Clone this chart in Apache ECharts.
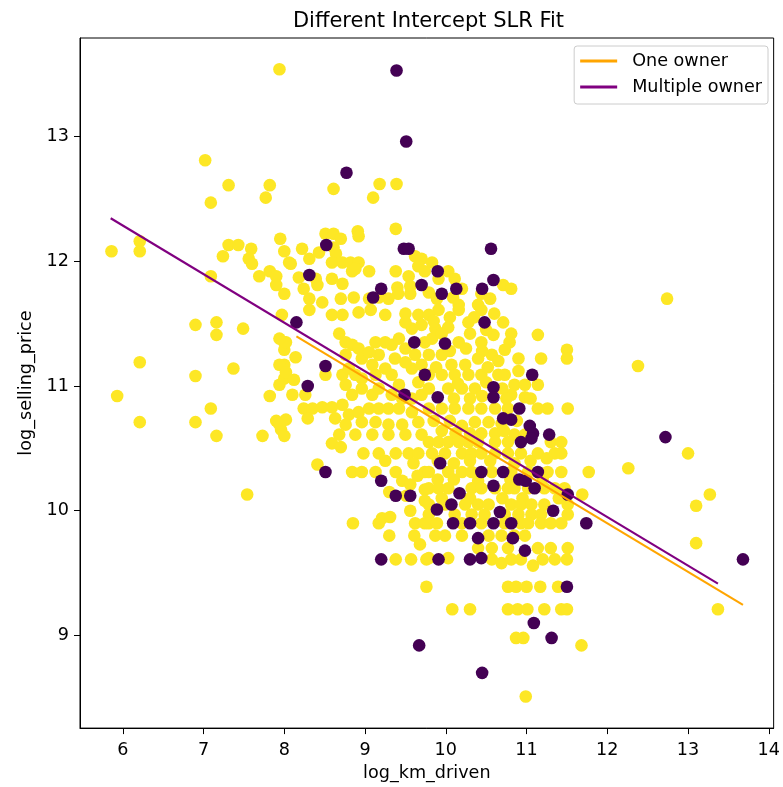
<!DOCTYPE html>
<html>
<head>
<meta charset="utf-8">
<script src="https://cdn.jsdelivr.net/npm/echarts@6/dist/echarts.min.js"></script>
<style>html,body{margin:0;padding:0;background:#fff}#c{width:783px;height:787px}</style>
</head>
<body>
<div id="c"></div>
<script>
// ---- data (log_km_driven, log_selling_price) ----
const oneOwner = [
[7.02,12.81],[7.31,12.61],[7.82,12.61],[7.77,12.51],[7.09,12.47],[6.21,12.16],[5.86,12.08],[6.21,12.08],[7.31,12.13],[7.43,12.13],[7.24,12.04],[7.59,12.10],[7.56,12.02],[7.60,11.98],[7.95,12.18],[8.0,12.08],[8.06,11.99],[7.69,11.88],[7.82,11.92],[7.90,11.88],[7.90,11.81],[7.09,11.88],[8.0,11.74],[7.97,11.57],[6.90,11.49],[7.16,11.51],[7.16,11.41],[7.49,11.46],[8.0,11.35],[8.0,11.29],[6.21,11.19],[7.37,11.14],[6.90,11.08],[8.0,11.17],[8.0,11.06],[5.93,10.92],[7.82,10.92],[7.09,10.82],[6.21,10.71],[6.90,10.71],[7.90,10.72],[7.96,10.65],[8.0,10.60],[7.16,10.60],[7.73,10.60],[7.54,10.13],[7.94,13.54],
[8.61,12.58],[9.18,12.62],[9.39,12.62],[9.10,12.51],[8.91,12.24],[8.92,12.20],[9.38,12.26],[8.51,12.22],[8.61,12.22],[8.70,12.18],[8.22,12.10],[8.31,12.02],[8.08,11.98],[8.43,12.07],[8.61,12.11],[8.64,12.06],[8.59,11.99],[8.72,11.99],[8.82,11.99],[8.92,11.99],[9.62,12.04],[9.70,12.02],[9.66,11.96],[9.74,11.92],[9.05,11.92],[8.18,11.87],[8.39,11.86],[8.24,11.78],[8.41,11.81],[8.59,11.86],[8.72,11.82],[8.84,11.92],[8.88,11.94],[9.38,11.92],[9.54,11.88],[9.56,11.80],[9.40,11.79],[9.56,11.74],[9.41,11.74],[9.29,11.70],[9.17,11.71],[9.05,11.70],[8.86,11.71],[8.70,11.70],[8.31,11.70],[8.47,11.67],
[9.83,11.99],[10.03,11.92],[10.11,11.86],[9.91,11.86],[9.79,11.75],[9.89,11.70],[10.20,11.78],[10.09,11.71],[10.71,11.81],[10.81,11.78],[10.44,11.74],[10.55,11.70],[10.16,11.65],[10.40,11.65],
[8.31,11.61],[8.59,11.57],[8.72,11.57],[8.92,11.59],[9.07,11.61],[9.25,11.57],[9.50,11.58],[9.66,11.57],[8.02,11.35],[7.94,11.38],[8.14,11.23],[7.94,11.17],[8.02,11.11],[8.12,11.05],[7.94,11.01],[8.10,10.93],[8.26,10.93],[8.24,10.82],[8.35,10.82],[8.29,10.74],[8.02,10.73],[7.94,10.69],[8.51,11.09],
[8.68,11.42],[8.76,11.35],[8.84,11.33],[8.92,11.30],[8.96,11.22],[8.76,11.25],[8.72,11.09],[8.80,11.14],[8.88,11.09],[8.96,11.06],[8.76,11.01],[8.84,10.93],[8.96,10.98],[9.09,10.93],[9.17,10.98],[9.13,11.09],[9.09,11.17],[9.17,11.25],[9.05,11.27],[9.13,11.35],[9.25,11.35],[9.33,11.33],[9.37,11.22],[9.25,11.14],[9.33,11.09],[9.42,11.01],[9.33,10.93],[9.46,10.90],[9.58,10.90],[9.70,10.93],[9.66,11.03],[9.58,11.14],[9.50,11.19],[9.62,11.25],[9.50,11.30],[9.42,11.38],[9.58,11.46],[9.70,11.49],[9.50,11.51],[9.74,11.35],[9.70,11.17],
[8.47,10.83],[8.59,10.83],[8.72,10.85],[8.80,10.77],[8.92,10.79],[9.05,10.82],[9.17,10.82],[9.29,10.82],[9.42,10.82],[9.58,10.79],[8.63,10.74],[8.76,10.69],[8.96,10.71],[9.13,10.71],[9.29,10.69],[9.46,10.69],[9.66,10.71],[8.68,10.61],[8.88,10.61],[9.09,10.61],[9.29,10.61],[9.50,10.61],[9.70,10.61],
[9.91,11.61],[10.16,11.61],[10.44,11.61],[9.79,11.57],[9.87,11.46],[10.03,11.47],[10.28,11.51],[10.71,11.51],[10.16,11.35],[10.44,11.35],[10.59,11.41],[10.81,11.42],[10.79,11.35],[10.73,11.29],[11.14,11.41],[10.90,11.22],[11.18,11.22],[11.50,11.29],[11.50,11.22],[9.83,11.38],[9.79,11.25],[9.95,11.25],[10.07,11.17],[10.24,11.17],[10.40,11.22],[10.57,11.25],[9.79,11.09],[9.95,11.09],[10.11,11.09],[10.28,11.09],[10.44,11.09],[10.65,11.09],[10.73,11.09],[10.85,11.01],[10.98,11.01],[11.14,11.01],[10.81,10.93],[10.98,10.91],[9.79,10.98],[10.03,10.98],[10.20,10.98],[10.36,10.98],[9.79,10.82],[9.95,10.82],[10.11,10.82],[10.28,10.82],[10.44,10.82],[10.61,10.82],[10.77,10.82],[11.14,10.82],[11.26,10.82],[11.51,10.82],[10.36,10.71],[10.53,10.71],[10.69,10.70],[10.44,10.62],[10.61,10.62],[10.85,10.61],[10.98,10.61],
[9.85,11.52],[10.05,11.55],[10.35,11.55],[10.60,11.58],[9.95,11.42],[10.30,11.42],[10.50,11.45],[10.05,11.28],[10.25,11.30],[10.45,11.28],[10.65,11.20],[9.88,11.15],[10.52,11.15],[10.90,11.12],[10.15,11.02],[10.50,11.03],[10.70,10.98],[10.10,10.90],[10.30,10.90],[10.45,10.92],[10.75,10.90],[11.05,10.90],[9.85,10.72],[10.05,10.72],[10.20,10.68],[10.88,10.72],[9.95,10.64],[10.12,10.62],[10.30,10.62],[10.72,10.64],
[8.59,10.54],[8.70,10.51],[8.98,10.46],[9.17,10.46],[9.38,10.46],[9.54,10.46],[9.66,10.46],[8.41,10.37],[8.84,10.31],[8.96,10.31],[9.13,10.31],[9.38,10.31],[9.74,10.31],[9.46,10.24],[9.56,10.21],[9.51,10.12],[9.74,10.17],[9.74,10.08],[9.56,10.00],[8.85,9.90],[9.17,9.90],[9.21,9.94],[9.31,9.95],[9.62,9.90],[9.74,9.90],[9.30,9.80],[9.61,9.80],[9.68,9.73],[9.38,9.61],[9.57,9.61],[9.76,9.61],
[9.25,10.40],[9.60,10.38],[9.30,10.15],[9.65,10.28],
[9.79,10.55],[9.91,10.55],[10.03,10.55],[10.16,10.55],[10.28,10.55],[10.40,10.55],[10.61,10.55],[10.77,10.55],[11.30,10.55],[11.43,10.55],
[9.83,10.46],[9.99,10.46],[10.20,10.46],[10.32,10.46],[10.44,10.46],[10.61,10.46],[10.77,10.46],[10.93,10.46],[11.14,10.46],[11.35,10.46],[11.43,10.46],
[9.90,10.40],[10.10,10.38],[10.30,10.40],[10.55,10.40],[10.85,10.38],[11.05,10.40],[11.25,10.42],
[9.79,10.31],[10.03,10.31],[10.20,10.31],[10.32,10.31],[10.57,10.31],[10.81,10.31],[11.02,10.31],[11.26,10.31],[11.43,10.31],
[9.90,10.25],[10.10,10.25],[10.40,10.24],[10.80,10.25],[11.20,10.26],
[9.79,10.18],[9.91,10.18],[10.03,10.18],[10.32,10.18],[10.44,10.18],[10.61,10.18],[10.77,10.18],[10.85,10.18],[11.02,10.18],[11.22,10.18],[11.35,10.18],[11.47,10.18],
[9.95,10.10],[10.30,10.10],[10.70,10.10],[10.95,10.10],[11.40,10.10],
[9.79,10.05],[9.99,10.05],[10.24,10.05],[10.40,10.05],[10.53,10.05],[10.81,10.05],[10.93,10.05],[11.06,10.05],[11.22,10.05],[11.51,10.05],
[9.79,9.97],[10.11,9.97],[10.32,9.97],[10.48,9.97],[10.73,9.97],[10.90,9.97],[11.06,9.97],[11.18,9.97],[11.51,9.97],
[9.79,9.90],[9.89,9.90],[10.20,9.90],[10.44,9.90],[10.73,9.90],[10.93,9.90],[11.02,9.90],[11.18,9.90],[11.30,9.90],[11.43,9.90],
[9.87,9.80],[9.99,9.80],[10.20,9.80],[10.53,9.80],[10.69,9.80],[10.85,9.80],[10.98,9.80],
[10.40,9.70],[10.57,9.70],[10.77,9.70],[11.14,9.70],[11.30,9.70],[11.51,9.70],
[9.79,9.62],[10.03,9.62],[10.57,9.61],[10.69,9.58],[10.81,9.61],[10.93,9.61],[11.08,9.56],[11.20,9.61],[11.35,9.61],[11.50,9.61],
[9.76,9.39],[10.77,9.39],[10.87,9.39],[11.0,9.39],[11.17,9.39],[11.39,9.39],[10.08,9.21],[10.30,9.21],[10.77,9.21],[10.89,9.21],[11.01,9.21],[11.22,9.21],[11.43,9.21],[11.50,9.21],[10.87,8.98],[10.96,8.98],[11.68,8.92],[10.99,8.51],
[12.74,11.70],[12.38,11.16],[13.0,10.46],[11.77,10.31],[12.26,10.34],[11.69,10.13],[13.27,10.13],[13.10,10.04],[13.10,9.74],[13.37,9.21]
];
const multipleOwner = [
[9.39,13.53],[9.51,12.96],[8.77,12.71],[8.52,12.13],[9.48,12.10],[9.54,12.10],[8.31,11.89],[9.70,11.81],[9.20,11.78],[9.10,11.71],[10.56,12.10],[9.90,11.92],[9.95,11.74],[10.13,11.78],[10.59,11.85],[10.45,11.78],[8.15,11.51],[8.51,11.16],[8.29,11.00],[9.61,11.35],[9.49,10.93],[9.74,11.09],[10.48,11.51],[9.99,11.34],[11.07,11.09],[10.59,10.99],[10.59,10.91],[9.90,10.91],[10.91,10.82],[10.81,10.73],[11.04,10.68],[11.08,10.62],[11.28,10.61],[10.71,10.74],[8.51,10.31],[9.20,10.24],[9.38,10.12],[9.56,10.12],[9.20,9.61],[9.93,10.38],[10.44,10.31],[10.71,10.31],[10.17,10.14],[10.59,10.20],[10.91,10.25],[10.99,10.24],[11.10,10.18],[11.14,10.31],[11.51,10.13],[9.89,10.01],[10.07,10.05],[10.09,9.90],[10.30,9.90],[10.59,9.90],[10.67,9.99],[10.81,9.90],[11.33,10.00],[10.40,9.78],[10.83,9.78],[10.98,9.68],[9.91,9.61],[10.30,9.61],[10.44,9.62],[11.06,10.58],[10.93,10.55],[12.72,10.59],[11.74,9.90],[13.68,9.61],[11.50,9.39],[11.09,9.10],[11.31,8.98],[9.67,8.92],[10.45,8.70]
];
// fitted lines (end points)
const oneOwnerFit = [[8.15,11.398],[13.68,9.245]];
const multipleOwnerFit = [[5.85,12.345],[13.37,9.415]];
// ticks
const xTicks = [6,7,8,9,10,11,12,13,14];
const yTicks = [9,10,11,12,13];

const FONT = 'DejaVu Sans';
const FS = 17.6;
const chart = echarts.init(document.getElementById('c'), null, {renderer:'canvas'});
chart.setOption({
  animation:false,
  backgroundColor:'#fff',
  textStyle:{fontFamily:FONT},
  graphic:[{type:'text',x:428.5,y:11,silent:true,
    style:{text:'Different Intercept SLR Fit',fontFamily:FONT,fontSize:21,fill:'#000',align:'center',verticalAlign:'top'}}],
  legend:{
    orient:'vertical',right:15,top:46,
    backgroundColor:'#fff',borderColor:'#cccccc',borderWidth:1,borderRadius:3,
    padding:[6,6,8,6],itemGap:8,itemWidth:37,itemHeight:3,
    textStyle:{fontFamily:FONT,fontSize:FS,color:'#000',padding:[0,0,0,10]},
    data:[{name:'One owner',icon:'rect'},{name:'Multiple owner',icon:'rect'}]
  },
  grid:{left:80,right:6,top:38,bottom:56,show:true,borderColor:'#000',borderWidth:1,containLabel:false},
  xAxis:{
    type:'value',min:5.47,max:14.06,
    name:'log_km_driven',nameLocation:'middle',nameGap:35,
    nameTextStyle:{fontFamily:FONT,fontSize:FS,color:'#000'},
    axisLine:{show:true,lineStyle:{color:'#000',width:1}},
    axisTick:{show:true,inside:false,length:6,lineStyle:{color:'#000'},customValues:xTicks},
    axisLabel:{show:true,margin:13,fontFamily:FONT,fontSize:FS,color:'#000',customValues:xTicks},
    splitLine:{show:false}
  },
  yAxis:{
    type:'value',min:8.257,max:13.79,
    name:'log_selling_price',nameLocation:'middle',nameGap:41,
    nameTextStyle:{fontFamily:FONT,fontSize:FS,color:'#000'},
    axisLine:{show:true,lineStyle:{color:'#000',width:1}},
    axisTick:{show:true,inside:false,length:6,lineStyle:{color:'#000'},customValues:yTicks},
    axisLabel:{show:true,margin:11,fontFamily:FONT,fontSize:FS,color:'#000',customValues:yTicks},
    splitLine:{show:false}
  },
  series:[
    {type:'scatter',name:'one_pts',data:oneOwner,symbolSize:12.6,itemStyle:{color:'#fde725',opacity:1},z:2,silent:true},
    {type:'scatter',name:'multi_pts',data:multipleOwner,symbolSize:12.6,itemStyle:{color:'#440154',opacity:1},z:3,silent:true},
    {type:'line',name:'One owner',data:oneOwnerFit,showSymbol:false,symbol:'none',
      lineStyle:{color:'#ffa500',width:2.1},itemStyle:{color:'#ffa500'},z:4},
    {type:'line',name:'Multiple owner',data:multipleOwnerFit,showSymbol:false,symbol:'none',
      lineStyle:{color:'#800080',width:2.1},itemStyle:{color:'#800080'},z:5}
  ]
});
</script>
</body>
</html>
